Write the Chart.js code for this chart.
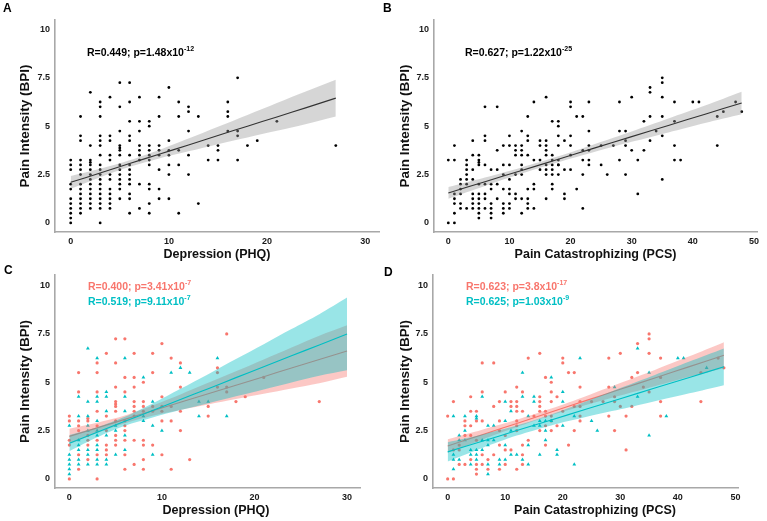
<!DOCTYPE html>
<html><head><meta charset="utf-8">
<script src="https://cdn.jsdelivr.net/npm/chart.js@4.4.0/dist/chart.umd.min.js"></script>
<style>
body{margin:0;background:#fff;width:767px;height:521px;overflow:hidden;position:relative;font-family:"Liberation Sans",Arial,sans-serif;}
.cv{position:absolute;}
.lbl{position:absolute;font-weight:bold;font-size:12px;color:#000;line-height:1;}
.st{position:absolute;font-weight:bold;font-size:10.5px;line-height:1;white-space:nowrap;}
.st sup{font-size:7px;vertical-align:top;position:relative;top:-2px;}
.xt{position:absolute;font-weight:bold;font-size:12.5px;color:#111;line-height:1;white-space:nowrap;transform:translate(-50%,-50%);}
</style></head><body>
<canvas id="cA" class="cv" width="383" height="262" style="left:0;top:0;width:383px;height:262px"></canvas>
<canvas id="cB" class="cv" width="387" height="262" style="left:380px;top:0;width:387px;height:262px"></canvas>
<canvas id="cC" class="cv" width="383" height="259" style="left:0;top:262px;width:383px;height:259px"></canvas>
<canvas id="cD" class="cv" width="387" height="259" style="left:380px;top:262px;width:387px;height:259px"></canvas>
<div class="lbl" style="left:3px;top:2px">A</div>
<div class="lbl" style="left:383px;top:2px">B</div>
<div class="lbl" style="left:4px;top:264px">C</div>
<div class="lbl" style="left:384px;top:266px">D</div>
<div class="st" style="left:87px;top:47px;color:#000">R=0.449; p=1.48x10<sup>-12</sup></div>
<div class="st" style="left:465px;top:47px;color:#000">R=0.627; p=1.22x10<sup>-25</sup></div>
<div class="st" style="left:88px;top:281px;color:#f8766d">R=0.400; p=3.41x10<sup>-7</sup></div>
<div class="st" style="left:88px;top:296px;color:#00bfc4">R=0.519; p=9.11x10<sup>-7</sup></div>
<div class="st" style="left:466px;top:281px;color:#f8766d">R=0.623; p=3.8x10<sup>-17</sup></div>
<div class="st" style="left:466px;top:296px;color:#00bfc4">R=0.625; p=1.03x10<sup>-9</sup></div>
<div class="xt" style="left:216px;top:510px">Depression (PHQ)</div>
<div class="xt" style="left:595px;top:510px">Pain Catastrophizing (PCS)</div>
<script>
// ---------- DATA ----------
const yTicks = [0, 2.5, 5, 7.5, 10];
const phqTicks = [0, 10, 20, 30];
const pcsTicks = [0, 10, 20, 30, 40, 50];

// Depression (PHQ) vs Pain Intensity: group 1 (red) and group 2 (cyan)
const depRed = [
 [0,3.25],[0,3],[0,2],[0,1.75],[0,0],
 [1,5.5],[1,4.5],[1,3],[1,2.75],[1,2.5],[1,1.25],[1,0.5],
 [2,3.125],[2,3],[2,2.25],[2,2],[2,1.75],[2,1],
 [3,6],[3,5.5],[3,4.5],[3,3.5],[3,2.75],[3,2],[3,1.25],[3,0],
 [4,6.5],[4,3.25],[4,2.5],[4,1.75],[4,1.5],[4,1.25],
 [5,7.25],[5,6],[5,4.75],[5,4],[5,3.875],[5,3.75],[5,3.5],[5,3],[5,2.25],[5,2],[5,1.75],
 [6,7.25],[6,5.25],[6,4.5],[6,3],[6,2.75],[6,2.5],[6,2],[6,1.25],[6,0.5],
 [7,6.5],[7,5.25],[7,4.75],[7,4],[7,3.75],[7,3.5],[7,3.25],[7,2],[7,0.75],
 [8,5],[8,4],[8,3.75],[8,3.5],[8,2],[8,1.75],[8,1],[8,0.5],
 [9,6.5],[9,5.5],[9,3.75],[9,3.5],[9,1.75],
 [10,7],[10,4.25],[10,3.75],[10,3.5],[10,3],[10,1.25],
 [11,6.25],[11,3.75],[11,3],[11,0.5],
 [12,6],[12,4.75],[12,3.5],[12,2.5],
 [13,1],[15,3.75],[15,3.25],
 [16,5.75],[16,5.5],[16,4.75],
 [17,7.5],[17,4.75],[17,4.5],
 [18,4],[19,4.25],[21,5.25],[27,4]
];
const depCyan = [
 [0,2.75],[0,1.25],[0,1],[0,0.75],[0,0.5],[0,0.25],
 [1,4.25],[1,3.25],[1,2],[1,1.75],[1,1.5],[1,1],[1,0.75],
 [2,6.75],[2,4],[2,3.25],[2,2.75],[2,2.5],[2,1.5],[2,1.25],[2,0.75],
 [3,6.25],[3,4.25],[3,4],[3,3],[3,2.5],[3,2.25],[3,1.75],[3,1.5],[3,1],[3,0.75],
 [4,4.5],[4,4.25],[4,3.5],[4,2.25],[4,1],[4,0.75],
 [5,2.75],[5,2.5],[5,1.25],
 [6,6.25],[6,4.25],[6,3.5],[6,2.25],[6,1.5],
 [8,5.25],[8,3.25],[8,3],
 [9,4],[9,2.75],[9,1.25],
 [10,2.5],[11,5.5],[12,5.75],[13,5.5],
 [14,4],[14,3.25],[15,4],[16,6.25],[17,3.25]
];

// Pain Catastrophizing (PCS) vs Pain Intensity
const pcsRed = [
 [0,3.25],[0,0],[1,4],[1,1.5],[1,0],
 [2,1.75],[2,1.5],[2,0.75],
 [3,3],[3,2.75],[3,2.25],[3,0.75],
 [4,4.25],[4,3.5],[4,2.75],[4,2.25],[4,1],
 [5,3.5],[5,3],[5,2],[5,0.75],[5,0.5],[5,0.25],
 [6,6],[6,4.5],[6,3],[6,1.25],[6,0.75],
 [7,1],[7,0.5],
 [8,6],[8,3.75],[8,1.25],
 [9,4],[9,3],[9,2.5],[9,1.75],[9,0.5],
 [10,4.5],[10,2.25],[10,1.5],[10,0.75],
 [11,4],[11,3.75],[11,1.5],
 [12,4.75],[12,4],[12,3.75],[12,3.5],[12,3],[12,2.75],[12,2.5],[12,0.5],
 [13,4.5],[13,3.5],[13,1.75],[13,1.25],[13,0.75],
 [14,6.25],[14,2],[15,3.25],
 [16,6.5],[16,4.25],[16,4],[16,3.75],[16,3.5],[16,2.5],
 [17,5.25],[17,3.5],[17,3.25],[17,2.75],[17,1.75],
 [18,5],[18,4.5],[18,4],[18,3.25],[18,3],[18,2.5],
 [19,4.25],[19,2.75],
 [20,6.25],[20,6],[20,3.5],
 [21,5.5],[21,1.75],
 [22,5.5],[22,3.75],[22,2.5],
 [23,4.75],[23,4],[23,3.75],[23,3.25],[23,3],
 [25,4],[27,4],
 [28,6.25],[28,4.75],[28,3.25],
 [29,4.25],[29,4],[29,2.5],
 [30,6.5],[30,3.75],[31,3.25],[31,1.5],
 [32,5.25],[32,3.75],[33,7],[33,5.5],[34,4.75],
 [35,7.5],[35,7.25],[35,6.5],[35,4.5],
 [37,6.25],[37,5.25],[37,4],[37,3.25],
 [44,5.5],[44,4],[47,6.25],[48,5.75]
];
const pcsCyan = [
 [1,3.25],[1,1.25],[1,1],[1,0.5],
 [2,2.25],[2,2],[2,1],
 [3,3.25],[3,2.5],[3,2],
 [4,1.5],[4,1.25],[4,0.75],
 [5,3.25],[5,3.125],[5,1.5],[5,1.25],[5,1],
 [6,4.25],[6,2],[6,1.5],
 [7,2.75],[7,2],[7,1.75],[7,0.75],[7,0.25],
 [8,2.75],[8,2],[9,1],[9,0.75],
 [10,4],[10,3],[10,1.75],[10,1],
 [11,3.5],[11,2.5],[11,1.25],[12,1.25],
 [13,5.5],[13,4.25],[13,1],
 [14,3.25],[14,1.75],[14,0.75],
 [15,4.25],[15,4],[15,2.75],
 [16,3],[16,2.75],[16,1.25],
 [17,3],[17,2.5],[17,2],
 [18,5.25],[18,3],[19,1.5],[19,1.25],
 [20,4.5],[20,4],[20,2.75],
 [22,3.25],[22,0.75],[23,6.25],[25,3],[26,2.5],[29,4.75],
 [33,6.75],[33,4.25],[35,5.5],[35,2.25],[38,3.25],
 [40,6.25],[41,6.25],[45,5.75]
];

// Fitted lines with confidence bands
const fitAX  = [0, 3, 6, 9, 12, 15, 18, 21, 24, 27];
const fitAY  = [2.10, 2.58, 3.07, 3.55, 4.03, 4.52, 5.00, 5.48, 5.96, 6.45];
const fitAHi = [2.43, 2.80, 3.24, 3.77, 4.36, 4.97, 5.58, 6.20, 6.81, 7.40];
const fitALo = [1.77, 2.36, 2.90, 3.33, 3.70, 4.07, 4.42, 4.76, 5.11, 5.50];

const fitBX  = [0, 6, 12, 18, 24, 30, 36, 42, 48];
const fitBY  = [1.55, 2.13, 2.71, 3.29, 3.88, 4.46, 5.04, 5.62, 6.20];
const fitBHi = [1.85, 2.35, 2.87, 3.44, 4.08, 4.73, 5.40, 6.07, 6.78];
const fitBLo = [1.25, 1.91, 2.55, 3.14, 3.68, 4.19, 4.68, 5.17, 5.62];

const fitCX     = [0, 3, 6, 9, 12, 15, 18, 21, 24, 27, 30];
const fitCRedY  = [2.20, 2.64, 3.08, 3.53, 3.97, 4.41, 4.85, 5.29, 5.74, 6.18, 6.62];
const fitCRedHi = [2.60, 2.91, 3.28, 3.80, 4.37, 4.97, 5.57, 6.18, 6.80, 7.41, 7.95];
const fitCRedLo = [1.80, 2.38, 2.88, 3.27, 3.57, 3.85, 4.13, 4.40, 4.68, 4.95, 5.29];
const fitCCyY   = [1.85, 2.41, 2.98, 3.54, 4.11, 4.67, 5.24, 5.80, 6.37, 6.93, 7.50];
const fitCCyHi  = [2.27, 2.67, 3.21, 3.90, 4.66, 5.42, 6.20, 6.97, 7.75, 8.52, 9.38];
const fitCCyLo  = [1.43, 2.15, 2.75, 3.18, 3.56, 3.92, 4.28, 4.63, 4.99, 5.34, 5.62];

const fitDX     = [0, 6, 12, 18, 24, 30, 36, 42, 48];
const fitDRedY  = [1.70, 2.29, 2.87, 3.46, 4.05, 4.64, 5.22, 5.81, 6.40];
const fitDRedHi = [2.05, 2.55, 3.06, 3.64, 4.28, 4.96, 5.64, 6.34, 7.07];
const fitDRedLo = [1.35, 2.03, 2.68, 3.29, 3.82, 4.32, 4.80, 5.29, 5.73];
const fitDCyY   = [1.40, 1.95, 2.50, 3.05, 3.60, 4.15, 4.70, 5.25, 5.80];
const fitDCyHi  = [1.90, 2.30, 2.76, 3.33, 4.00, 4.70, 5.38, 6.07, 6.75];
const fitDCyLo  = [0.90, 1.60, 2.24, 2.77, 3.20, 3.60, 4.02, 4.43, 4.85];

// ---------- BUILD ----------
const RED = '#f8766d', CYAN = '#00bfc4';
const FONT = '"Liberation Sans", Arial, sans-serif';
const toPts = arr => arr.map(p => ({x: p[0], y: p[1]}));
const zipXY = (xs, ys) => xs.map((x, i) => ({x, y: ys[i]}));

function lineDs(xs, ys, color) {
  return {type:'line', data: zipXY(xs, ys), borderColor: color, borderWidth: 1.1,
    pointRadius: 0, fill: false, tension: 0.3};
}
function bandDs(xs, hi, lo, color) {
  return [
    {type:'line', data: zipXY(xs, hi), borderWidth: 0, borderColor:'rgba(0,0,0,0)',
      backgroundColor: color, pointRadius: 0, fill: '+1', tension: 0.3},
    {type:'line', data: zipXY(xs, lo), borderWidth: 0, borderColor:'rgba(0,0,0,0)',
      pointRadius: 0, fill: false, tension: 0.3}
  ];
}
function ptsDs(arr, color, style, r) {
  return {type:'scatter', data: toPts(arr), backgroundColor: color, borderWidth: 0,
    pointStyle: style, pointRadius: r, showLine: false};
}

function makePanel(id, c) {
  new Chart(document.getElementById(id), {
    type: 'scatter',
    data: {datasets: c.datasets},
    options: {
      responsive: false, animation: false, events: [],
      layout: {padding: c.pad},
      plugins: {legend: {display: false}, tooltip: {enabled: false}},
      scales: {
        x: {
          type: 'linear', min: c.xmin, max: c.xmax,
          grid: {display: false, drawTicks: false},
          border: {display: true, color: '#a8a8a8', width: 1.6},
          ticks: {font: {family: FONT, size: 9, weight: 'bold'}, color: '#1a1a1a', padding: c.xtp,
            callback: v => String(v)},
          afterBuildTicks: s => { s.ticks = c.xticks.map(v => ({value: v})); },
          afterFit: s => { s.height = c.xh; },
          title: {display: !!c.xtitle, text: c.xtitle || '', color: '#111',
            font: {family: FONT, size: 12.5, weight: 'bold'}, padding: {top: 0, bottom: 0}}
        },
        y: {
          type: 'linear', min: c.ymin, max: c.ymax,
          grid: {display: false, drawTicks: false},
          border: {display: true, color: '#a8a8a8', width: 1.6},
          ticks: {font: {family: FONT, size: 9, weight: 'bold'}, color: '#1a1a1a', padding: 5,
            callback: v => String(v)},
          afterBuildTicks: s => { s.ticks = yTicks.map(v => ({value: v})); },
          afterFit: s => { s.width = c.yw; },
          title: {display: true, text: 'Pain Intensity (BPI)', color: '#111',
            font: {family: FONT, size: 13.5, weight: 'bold'}, padding: {top: 17, bottom: 0}}
        }
      }
    }
  });
}

const GREY_BAND = 'rgba(153,153,153,0.4)';
const RED_BAND = 'rgba(248,118,109,0.4)';
const CYAN_BAND = 'rgba(0,191,196,0.4)';

makePanel('cA', {
  datasets: [
    lineDs(fitAX, fitAY, '#333'),
    ...bandDs(fitAX, fitAHi, fitALo, GREY_BAND),
    ptsDs(depRed.concat(depCyan), '#000', 'circle', 1.4)
  ],
  pad: {top: 20, right: 3, left: 0, bottom: 0}, yw: 55, xh: 30, xtp: 4,
  xmin: -1.6, xmax: 31.4, ymin: -0.47, ymax: 10.49,
  xticks: phqTicks, xtitle: 'Depression (PHQ)'
});
makePanel('cB', {
  datasets: [
    lineDs(fitBX, fitBY, '#333'),
    ...bandDs(fitBX, fitBHi, fitBLo, GREY_BAND),
    ptsDs(pcsRed.concat(pcsCyan), '#000', 'circle', 1.4)
  ],
  pad: {top: 20, right: 10, left: 0, bottom: 0}, yw: 54, xh: 30, xtp: 4,
  xmin: -2.34, xmax: 50.5, ymin: -0.47, ymax: 10.49,
  xticks: pcsTicks, xtitle: 'Pain Catastrophizing (PCS)'
});
makePanel('cC', {
  datasets: [
    lineDs(fitCX, fitCCyY, CYAN),
    ...bandDs(fitCX, fitCCyHi, fitCCyLo, CYAN_BAND),
    lineDs(fitCX, fitCRedY, RED),
    ...bandDs(fitCX, fitCRedHi, fitCRedLo, RED_BAND),
    ptsDs(depCyan, CYAN, 'triangle', 2.2),
    ptsDs(depRed, RED, 'circle', 1.6)
  ],
  pad: {top: 13, right: 23, left: 0, bottom: 0}, yw: 55, xh: 33, xtp: 4,
  xmin: -1.55, xmax: 31.4, ymin: -0.47, ymax: 10.55,
  xticks: phqTicks, xtitle: null
});
makePanel('cD', {
  datasets: [
    lineDs(fitDX, fitDCyY, CYAN),
    ...bandDs(fitDX, fitDCyHi, fitDCyLo, CYAN_BAND),
    lineDs(fitDX, fitDRedY, RED),
    ...bandDs(fitDX, fitDRedHi, fitDRedLo, RED_BAND),
    ptsDs(pcsCyan, CYAN, 'triangle', 2.2),
    ptsDs(pcsRed, RED, 'circle', 1.6)
  ],
  pad: {top: 13, right: 29, left: 0, bottom: 0}, yw: 53, xh: 33, xtp: 4,
  xmin: -2.55, xmax: 50.45, ymin: -0.47, ymax: 10.55,
  xticks: pcsTicks, xtitle: null
});
</script>
</body></html>
